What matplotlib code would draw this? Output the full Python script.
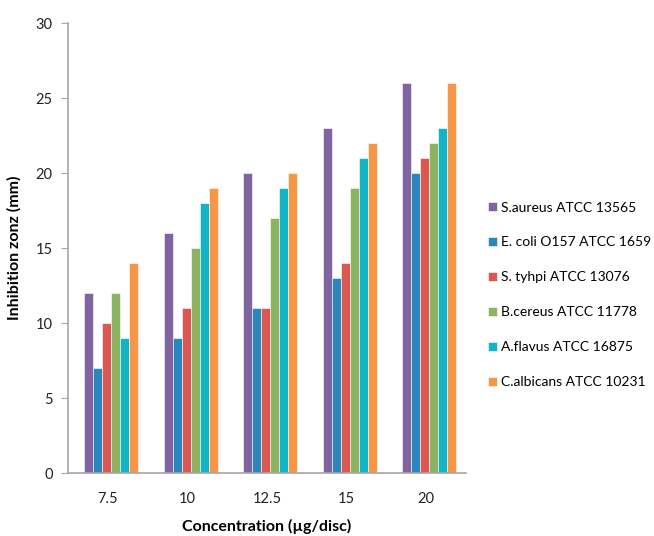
import matplotlib.pyplot as plt
import numpy as np

plt.rcParams['font.family'] = ['Lato', 'DejaVu Sans']

# Концентрации и зоны ингибирования для каждого штамма
concentrations = ['7.5', '10', '12.5', '15', '20']
strains = ['S.aureus ATCC 13565', 'E. coli O157 ATCC 1659', 'S. tyhpi ATCC 13076',
           'B.cereus ATCC 11778', 'A.flavus ATCC 16875', 'C.albicans ATCC 10231']
s_aureus = [12, 16, 20, 23, 26]
e_coli = [7, 9, 11, 13, 20]
s_typhi = [10, 11, 11, 14, 21]
b_cereus = [12, 15, 17, 19, 22]
a_flavus = [9, 18, 19, 21, 23]
c_albicans = [14, 19, 20, 22, 26]
series = [s_aureus, e_coli, s_typhi, b_cereus, a_flavus, c_albicans]
colors = ['#8064A2', '#2A86BB', '#DB5752', '#8BB362', '#12B5C5', '#F79646']

fig = plt.figure(figsize=(6.54, 5.36), dpi=100)
ax = fig.add_axes([0.104, 0.1175, 0.6085, 0.8395])

x = np.arange(len(concentrations))
w = 0.113
for i, (vals, c) in enumerate(zip(series, colors)):
    ax.bar(x + (i - 2.5) * w + 0.04, vals, width=w, color=c, label=strains[i],
           edgecolor='white', linewidth=0.4)

ax.set_xlim(-0.5, len(concentrations) - 0.5)
ax.set_ylim(0, 30)
ax.set_yticks(range(0, 31, 5))
ax.set_xticks(x)
ax.set_xticklabels(concentrations)
ax.tick_params(axis='x', length=0, pad=14, labelsize=10.5, colors='#222222')
ax.tick_params(axis='y', length=5, color='#A6A6A6', labelsize=10.5, colors='#222222', pad=6)
for s in ['top', 'right']:
    ax.spines[s].set_visible(False)
for s in ['left', 'bottom']:
    ax.spines[s].set_color('#A6A6A6')
    ax.spines[s].set_linewidth(1.2)

ax.set_ylabel('Inhibition zonz (mm)', fontsize=11.5, fontweight='bold', labelpad=10)
ax.set_xlabel('Concentration (µg/disc)', fontsize=11.5, fontweight='bold', labelpad=9)

fig.legend(loc='center left', bbox_to_anchor=(0.727, 0.45), frameon=False,
           handlelength=0.65, handleheight=0.65, handletextpad=0.3,
           labelspacing=1.65, fontsize=10)

fig.savefig('out.png', dpi=100)
